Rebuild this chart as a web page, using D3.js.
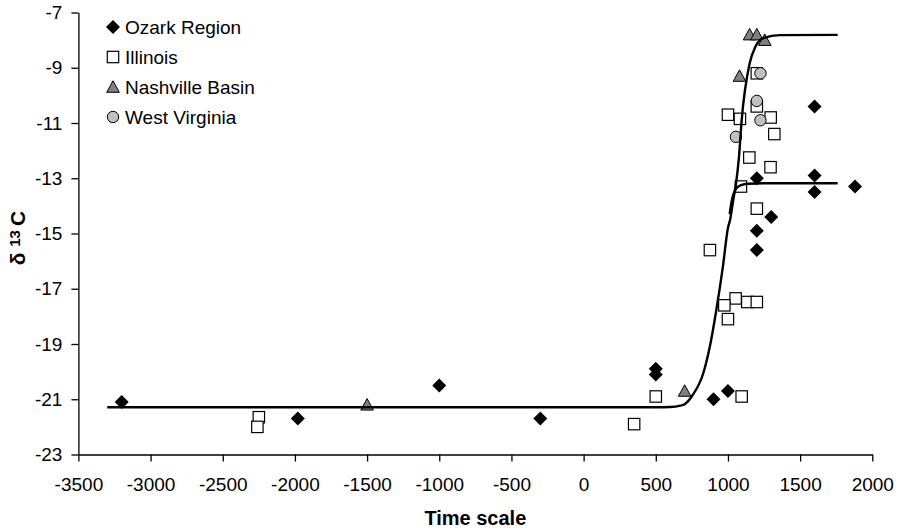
<!DOCTYPE html>
<html>
<head>
<meta charset="utf-8">
<script src="https://cdn.jsdelivr.net/npm/d3@7"></script>
<style>
  body { margin: 0; background: #fff; }
  svg { display: block; font-family: "Liberation Sans", Arial, sans-serif; }
</style>
</head>
<body>
<div id="chart"></div>
<script>
/*---------- DATA ----------*/
// Ozark Region (black diamonds)
const ozarkX = [-3200, -1980, -1000, -300, 500, 500, 900, 1000, 1200, 1300, 1200, 1200, 1600, 1600, 1600, 1880];
const ozarkY = [-21.1, -21.7, -20.5, -21.7, -19.9, -20.1, -21.0, -20.7, -13.0, -14.4, -14.9, -15.6, -10.4, -12.9, -13.5, -13.3];

// Illinois (open squares)
const illinoisX = [-2250, -2260, 350, 500, 1095, 875, 1053, 975, 1134, 1200, 1000, 1200, 1090, 1148, 1295, 1321, 1000, 1083, 1296, 1200, 1200];
const illinoisY = [-21.65, -22.0, -21.9, -20.9, -20.9, -15.6, -17.35, -17.6, -17.48, -17.48, -18.1, -14.1, -13.3, -12.25, -12.6, -11.4, -10.7, -10.85, -10.8, -10.4, -9.2];

// Nashville Basin (grey triangles)
const nashvilleX = [-1500, 700, 1080, 1150, 1200, 1255];
const nashvilleY = [-21.2, -20.7, -9.3, -7.8, -7.8, -8.0];

// West Virginia (light grey circles)
const virginiaX = [1225, 1200, 1225, 1055];
const virginiaY = [-9.2, -10.2, -10.9, -11.5];

// Fitted curves
const upperCurveX = [-3300, 500, 600, 670, 700, 750, 830, 875, 920, 965, 1000, 1015, 1037, 1054, 1076, 1095, 1150, 1190, 1245, 1360, 1760];
const upperCurveY = [-21.29, -21.29, -21.28, -21.23, -21.18, -20.89, -20.04, -19.08, -17.75, -16.2, -14.8, -14.5, -13.78, -13.26, -12.25, -10.9, -8.85, -8.24, -7.93, -7.82, -7.81];
const lowerCurveX = [1012, 1025, 1040, 1060, 1090, 1140, 1300, 1760];
const lowerCurveY = [-14.3, -13.85, -13.55, -13.35, -13.25, -13.2, -13.18, -13.18];

// Axis ticks
const xTicks = [-3500, -3000, -2500, -2000, -1500, -1000, -500, 0, 500, 1000, 1500, 2000];
const yTicks = [-23, -21, -19, -17, -15, -13, -11, -9, -7];

const legendNames = ["Ozark Region", "Illinois", "Nashville Basin", "West Virginia"];

/*---------- SETUP ----------*/
const width = 903;
const height = 531;

const svg = d3
  .select("#chart")
  .append("svg")
  .attr("width", width)
  .attr("height", height);

const x = d3.scaleLinear().domain([-3500, 2000]).range([78.4, 872.3]);
const y = d3.scaleLinear().domain([-23, -7]).range([454.5, 12.5]);

// Axes
const xAxis = svg
  .append("g")
  .attr("transform", `translate(0, ${y(-23)})`)
  .call(d3.axisBottom(x).tickValues(xTicks).tickSize(7).tickSizeOuter(0).tickPadding(16));

const yAxis = svg
  .append("g")
  .attr("transform", `translate(${x(-3500)}, 0)`)
  .call(d3.axisLeft(y).tickValues(yTicks).tickSize(7).tickSizeOuter(0).tickPadding(9));

[xAxis, yAxis].forEach((g) => {
  g.selectAll("path, line").attr("stroke", "#000").attr("stroke-width", 1.3);
  g.selectAll("text")
    .attr("fill", "#000")
    .attr("font-size", "19px")
    .attr("font-family", '"Liberation Sans", Arial, sans-serif')
    // plain hyphen for the minus sign, as in the original
    .text((d) => String(d));
});

// Axis titles
svg
  .append("text")
  .attr("x", (x(-3500) + x(2000)) / 2)
  .attr("y", 525)
  .attr("text-anchor", "middle")
  .attr("font-size", "20px")
  .attr("font-weight", "bold")
  .text("Time scale");

const yLabel = svg
  .append("text")
  .attr("transform", "translate(25, 238) rotate(-90)")
  .attr("text-anchor", "middle")
  .attr("font-size", "21px")
  .attr("font-weight", "bold");
yLabel.append("tspan").text("δ ");
yLabel.append("tspan").attr("font-size", "15px").attr("dy", -5).text("13 ");
yLabel.append("tspan").attr("dy", 5).text("C");

/*---------- MARKERS ----------*/
function toPoints(xs, ys) {
  return xs.map((v, i) => ({ x: x(v), y: y(ys[i]) }));
}

const diamondPath = "M0,-7L7,0L0,7L-7,0Z";
const trianglePath = "M0,-6.2L6.3,5.3L-6.3,5.3Z";

function drawDiamond(g, d) {
  g.append("path")
    .attr("d", diamondPath)
    .attr("transform", `translate(${d.x}, ${d.y})`)
    .attr("fill", "#000");
}
function drawSquare(g, d) {
  g.append("rect")
    .attr("x", d.x - 5.7)
    .attr("y", d.y - 5.7)
    .attr("width", 11.4)
    .attr("height", 11.4)
    .attr("fill", "#fff")
    .attr("stroke", "#000")
    .attr("stroke-width", 1.2);
}
function drawTriangle(g, d) {
  g.append("path")
    .attr("d", trianglePath)
    .attr("transform", `translate(${d.x}, ${d.y})`)
    .attr("fill", "#808080")
    .attr("stroke", "#000")
    .attr("stroke-width", 1);
}
function drawCircle(g, d) {
  g.append("circle")
    .attr("cx", d.x)
    .attr("cy", d.y)
    .attr("r", 5.7)
    .attr("fill", "#c0c0c0")
    .attr("stroke", "#000")
    .attr("stroke-width", 1);
}

const marks = svg.append("g");
toPoints(ozarkX, ozarkY).forEach((d) => drawDiamond(marks, d));
toPoints(illinoisX, illinoisY).forEach((d) => drawSquare(marks, d));
toPoints(nashvilleX, nashvilleY).forEach((d) => drawTriangle(marks, d));
toPoints(virginiaX, virginiaY).forEach((d) => drawCircle(marks, d));

/*---------- CURVES ----------*/
const line = d3
  .line()
  .x((d) => d.x)
  .y((d) => d.y)
  .curve(d3.curveMonotoneX);

[toPoints(upperCurveX, upperCurveY), toPoints(lowerCurveX, lowerCurveY)].forEach((pts) => {
  svg
    .append("path")
    .datum(pts)
    .attr("d", line)
    .attr("fill", "none")
    .attr("stroke", "#000")
    .attr("stroke-width", 2.4);
});

/*---------- LEGEND ----------*/
const legend = svg.append("g");
const drawers = [drawDiamond, drawSquare, drawTriangle, drawCircle];
legendNames.forEach((name, i) => {
  const cy = 27 + i * 30;
  drawers[i](legend, { x: 113, y: cy });
  legend
    .append("text")
    .attr("x", 125)
    .attr("y", cy + 7)
    .attr("font-size", "19px")
    .text(name);
});
</script>
</body>
</html>
